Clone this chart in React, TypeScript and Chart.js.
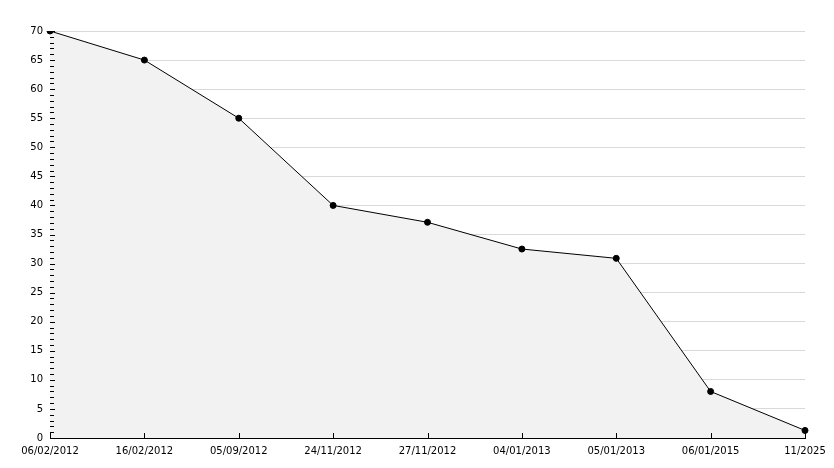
import React, { useEffect, useRef } from "react";
import { Chart, registerables } from "chart.js";

Chart.register(...registerables);

const categories = [
  "06/02/2012",
  "16/02/2012",
  "05/09/2012",
  "24/11/2012",
  "27/11/2012",
  "04/01/2013",
  "05/01/2013",
  "06/01/2015",
  "11/2025",
];
const values = [70, 65, 55, 40, 37.1, 32.5, 30.9, 8, 1.3];
const yMin = 0;
const yMax = 70;
const yMajorStep = 5;
const yMinorStep = 1;

const FONT = { family: "'DejaVu Sans', Verdana, sans-serif", size: 10 };

// Draws inward axis tick marks on top of the filled area, from the library's own scales.
const inwardTicks = {
  id: "inwardTicks",
  afterDatasetsDraw(chart: any) {
    const { ctx, chartArea } = chart;
    const ys = chart.scales.y;
    const xs = chart.scales.x;
    ctx.save();
    ctx.strokeStyle = "#000000";
    ctx.lineWidth = 1;
    ctx.beginPath();
    ys.ticks.forEach((t: any) => {
      const py = Math.round(ys.getPixelForValue(t.value)) + 0.5;
      const len = t.value % yMajorStep === 0 ? 5 : 4;
      ctx.moveTo(chartArea.left, py);
      ctx.lineTo(chartArea.left + len, py);
    });
    xs.ticks.forEach((_t: any, i: number) => {
      const px = Math.round(xs.getPixelForTick(i)) + 0.5;
      ctx.moveTo(px, chartArea.bottom);
      ctx.lineTo(px, chartArea.bottom - 5);
    });
    ctx.stroke();
    ctx.restore();
  },
};

export default function App() {
  const ref = useRef<HTMLCanvasElement | null>(null);

  useEffect(() => {
    document.body.style.margin = "0";
    const ctx = ref.current;
    if (!ctx) return;
    const chart = new Chart(ctx, {
      type: "line",
      data: {
        labels: categories,
        datasets: [
          {
            data: values,
            borderColor: "#000000",
            borderWidth: 1,
            backgroundColor: "#f2f2f2",
            fill: "origin",
            tension: 0,
            pointRadius: 3,
            pointHoverRadius: 3,
            pointStyle: "circle",
            pointBackgroundColor: "#000000",
            pointBorderColor: "#000000",
            pointBorderWidth: 1,
          },
        ],
      },
      plugins: [inwardTicks],
      options: {
        animation: false,
        responsive: false,
        maintainAspectRatio: false,
        events: [],
        layout: { padding: { top: 31, right: 29, left: 0, bottom: 0 } },
        plugins: {
          legend: { display: false },
          tooltip: { enabled: false },
        },
        scales: {
          x: {
            type: "category",
            offset: false,
            grid: {
              display: true,
              drawOnChartArea: false,
              drawTicks: true,
              tickLength: -5,
              tickColor: "rgba(0,0,0,0)",
              color: "rgba(0,0,0,0)",
            },
            border: { display: true, color: "#000000", width: 1 },
            ticks: {
              autoSkip: false,
              maxRotation: 0,
              minRotation: 0,
              padding: 12,
              color: "#000000",
              font: FONT,
            },
            afterFit: (scale: any) => {
              scale.height = 30;
              scale.paddingLeft = 0;
              scale.paddingRight = 0;
            },
          },
          y: {
            type: "linear",
            min: yMin,
            max: yMax,
            grid: {
              display: true,
              drawOnChartArea: true,
              drawTicks: true,
              tickLength: -4,
              color: (c: any) =>
                c.tick && c.tick.value % yMajorStep === 0 && c.tick.value !== 0
                  ? "#d9d9d9"
                  : "rgba(0,0,0,0)",
              tickColor: "rgba(0,0,0,0)",
            },
            border: { display: true, color: "#000000", width: 1 },
            ticks: {
              stepSize: yMinorStep,
              maxTicksLimit: 200,
              autoSkip: false,
              padding: 11,
              color: "#000000",
              font: FONT,
              callback: (v: any) => (Number(v) % yMajorStep === 0 ? String(v) : ""),
            },
            afterFit: (scale: any) => {
              scale.width = 50;
              scale.paddingTop = 0;
              scale.paddingBottom = 0;
            },
          },
        },
      },
    });
    return () => chart.destroy();
  }, []);

  return (
    <div style={{ position: "absolute", left: 0, top: 0, width: 834, height: 468, background: "#ffffff" }}>
      <canvas ref={ref} width={834} height={468} style={{ display: "block" }} />
    </div>
  );
}
